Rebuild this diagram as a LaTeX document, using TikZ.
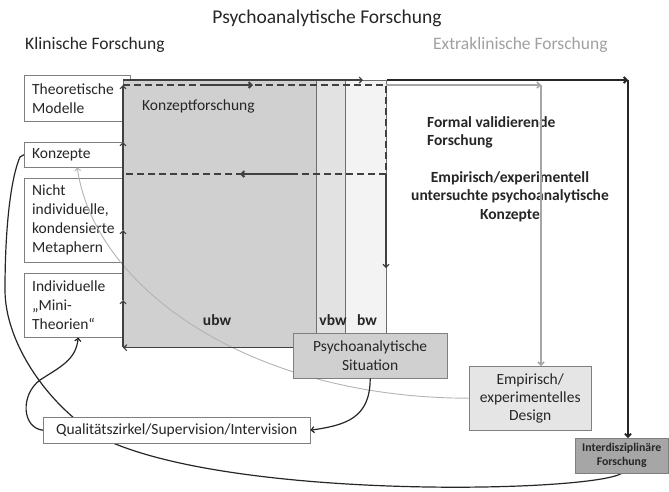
\documentclass[tikz,border=0pt]{standalone}
\usepackage{fontspec}
\setmainfont{Carlito}
\usetikzlibrary{arrows.meta}
\definecolor{ink}{HTML}{262626}
\definecolor{rim}{HTML}{7F7F7F}
\definecolor{zoneline}{HTML}{6E6E6E}
\definecolor{darkline}{HTML}{404040}
\definecolor{ubwgray}{HTML}{D0D0D0}
\definecolor{vbwgray}{HTML}{E2E2E2}
\definecolor{bwgray}{HTML}{F3F3F3}
\definecolor{psgray}{HTML}{D0D0D0}
\definecolor{empgray}{HTML}{E5E5E5}
\definecolor{intgray}{HTML}{A6A6A6}
\definecolor{arrgray}{HTML}{A6A6A6}
\definecolor{xgray}{HTML}{A0A0A0}
\pgfdeclarelayer{low}
\pgfdeclarelayer{curves}
\pgfsetlayers{low,curves,main}
\begin{document}
\begin{tikzpicture}[x=1pt,y=-1pt,font=\fontsize{15.5}{19}\selectfont,text=ink,>={Straight Barb[length=3pt,width=6pt]}]
	\tikzset{
	kbox/.style={draw=rim,fill=white,anchor=north west,inner xsep=8pt,inner ysep=0pt,text width=90pt,align=left},
	cbox/.style={draw=rim,anchor=north west,inner sep=0pt,align=center},
	zone/.style={draw=zoneline,line width=0.7pt,anchor=north west,inner sep=0pt,minimum height=267pt},
	lbl/.style={inner sep=0pt},
	bold/.style={inner sep=0pt,font=\fontsize{15.5}{18.5}\selectfont\bfseries},
	arr/.style={->,draw=darkline,line width=1.1pt},
	fatarr/.style={->,draw=darkline,line width=2pt},
	dashline/.style={draw=darkline,line width=1.6pt,dash pattern=on 7pt off 4pt},
	bigarr/.style={->,draw=ink,line width=1.8pt},
	greyarr/.style={->,draw=arrgray,line width=1.5pt},
	greycurve/.style={->,draw=arrgray!85,line width=0.9pt},
	loopline/.style={draw=ink,line width=1.2pt}}
	\useasboundingbox (0,0) rectangle (669,491);
	% titles
	\node[lbl,font=\fontsize{19.5}{23}\selectfont,anchor=base] (title) at (327,23) {Psychoanalytische Forschung};
	\node[lbl,font=\fontsize{17.5}{21}\selectfont,anchor=base west] (klin) at (25,49) {Klinische Forschung};
	\node[lbl,font=\fontsize{17.5}{21}\selectfont,anchor=base west,text=xgray] (extra) at (433,49) {Extraklinische Forschung};
	% left column and zones
	\begin{pgfonlayer}{low}
	\node[kbox,minimum height=46pt] (theo) at (24,75) {Theoretische\\Modelle};
	\node[kbox,minimum height=25pt] (konz) at (24,142) {Konzepte};
	\node[kbox,minimum height=84pt] (nicht) at (24,178) {Nicht\\individuelle,\\kondensierte\\Metaphern};
	\node[kbox,minimum height=64pt] (mini) at (24,273) {Individuelle\\„Mini-\\Theorien“};
	\node[zone,fill=ubwgray,minimum width=193pt] (ubw) at (123,80) {};
	\node[zone,fill=vbwgray,minimum width=29pt] (vbw) at (316,80) {};
	\node[zone,fill=bwgray,minimum width=41pt] (bw) at (345,80) {};
	\end{pgfonlayer}
	\node[lbl,anchor=base west] (kf) at (142,110) {Konzeptforschung};
	\node[bold,anchor=base] (lubw) at (217,325) {ubw};
	\node[bold,anchor=base] (lvbw) at (333,325) {vbw};
	\node[bold,anchor=base] (lbw) at (367,325) {bw};
	\node[bold,anchor=base west,align=left] (formal) at (427,145.5) {Formal validierende\\Forschung};
	\node[bold,anchor=base,align=center] (empk) at (510,219) {Empirisch/experimentell\\untersuchte psychoanalytische\\Konzepte};
	% boxes
	\node[cbox,fill=psgray,minimum width=154pt,minimum height=45pt] (ps) at (293,333) {Psychoanalytische\\Situation};
	\node[cbox,fill=white,minimum width=267pt,minimum height=26pt] (qz) at (43,417) {Qualitätszirkel/Supervision/Intervision};
	\node[cbox,fill=empgray,minimum width=122pt,minimum height=64pt,font=\fontsize{15.5}{18}\selectfont] (emp) at (469,366) {Empirisch/\\experimentelles\\Design};
	\node[cbox,fill=intgray,minimum width=93pt,minimum height=35pt,font=\fontsize{11.8}{14}\selectfont\bfseries] (inter) at (575,438) {Interdisziplinäre\\Forschung};
	% dashed loop
	\coordinate (dtl) at (123,85);
	\coordinate (dtr) at (386,85);
	\coordinate (dbr) at (386,174);
	\coordinate (dbl) at (123,174);
	\draw[dashline] (dtl)--(dtr)--(dbr)--(dbl)--cycle;
	\draw[fatarr] (200,85)--(253,85);
	\draw[fatarr] (297,174)--(240,174);
	\draw[arr] (dbr)--(386,268);
	% left edge
	\draw[arr] (ps.west |- ubw.south)--(ubw.south west);
	\foreach \a/\b in {347/300,300/230,230/142,142/85}
	\draw[arr] (ubw.west |- 0,\a)--(ubw.west |- 0,\b);
	\draw[arr] (ubw.north west)--(363,80);
	% extraclinical arrows
	\coordinate (ctr) at (628,80);
	\coordinate (gtr) at (541,85);
	\draw[bigarr] (bw.north east)--(ctr);
	\draw[bigarr] (ctr)--(inter.north -| ctr);
	\draw[greyarr] (dtr)--(gtr);
	\draw[greyarr] (gtr)--(emp.north -| gtr);
	% curves
	\begin{pgfonlayer}{curves}
	\draw[greycurve] (emp.west) .. controls (252,398) and (95,290) .. (konz.south);
	\draw[loopline] (inter.south) .. controls (590,492) and (250,500) .. (113,443) .. controls (60,420) and (5,350) .. (5,290) .. controls (5,220) and (12,175) .. (20,157)--(konz.west);
	\end{pgfonlayer}
	\draw[arr,loopline] (qz.west) .. controls (22,428) and (20,395) .. (40,380) .. controls (60,367) and (76,360) .. ([xshift=1pt]mini.south);
	\draw[arr,loopline] (ps.south) .. controls +(0,40) and +(35,-5) .. (qz.east);
\end{tikzpicture}
\end{document}
